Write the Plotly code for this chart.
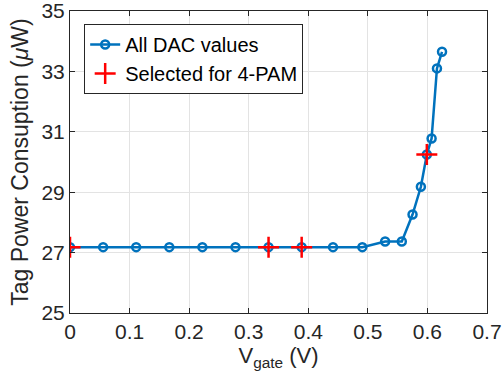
import plotly.graph_objects as go

vgate = [0, 0.0556, 0.1111, 0.1667, 0.2222, 0.2778, 0.3333, 0.3889, 0.4415, 0.4907,
         0.529, 0.557, 0.575, 0.589, 0.599, 0.607, 0.616, 0.6245]
power = [27.18, 27.18, 27.18, 27.18, 27.18, 27.18, 27.18, 27.18, 27.18, 27.18,
         27.37, 27.37, 28.26, 29.18, 30.25, 30.78, 33.10, 33.65]
sel_vgate = [0, 0.3333, 0.3889, 0.599]
sel_power = [27.18, 27.18, 27.18, 30.25]

x_ticks = [0, 0.1, 0.2, 0.3, 0.4, 0.5, 0.6, 0.7]
y_ticks = [25, 27, 29, 31, 33, 35]

font = "Liberation Sans, Arial, sans-serif"
axcol = "#262626"

fig = go.Figure()
fig.add_trace(go.Scatter(
    x=vgate, y=power, mode="lines+markers", name="All DAC values",
    line=dict(color="#0072BD", width=2.5),
    marker=dict(symbol="circle-open", size=8, color="#0072BD", line=dict(width=2.5)),
))
fig.add_trace(go.Scatter(
    x=sel_vgate, y=sel_power, mode="markers", name="Selected for 4-PAM",
    marker=dict(symbol="cross-thin-open", size=15, color="#FF0000", line=dict(width=2.5, color="#FF0000")),
))

axis_common = dict(
    showline=True, linecolor=axcol, linewidth=1, mirror="ticks",
    ticks="inside", ticklen=5, tickcolor=axcol,
    showgrid=True, gridcolor="#e3e3e3", gridwidth=1,
    zeroline=False, automargin=False, ticklabeloverflow="allow",
    tickfont=dict(family=font, size=21, color=axcol),
)

fig.update_layout(
    width=503, height=384,
    margin=dict(l=70, r=16, t=11, b=71),
    paper_bgcolor="white", plot_bgcolor="white",
    xaxis=dict(range=[0, 0.7], tickvals=x_ticks, ticktext=[("%g" % v) for v in x_ticks],
               title=dict(text="V<sub>gate</sub> (V)", font=dict(family=font, size=22, color=axcol), standoff=4),
               **axis_common),
    yaxis=dict(range=[25, 35], tickvals=y_ticks,
               title=dict(text="Tag Power Consuption (<i>μ</i>W)", font=dict(family=font, size=23, color=axcol), standoff=6),
               **axis_common),
    legend=dict(x=0.034, y=0.957, xanchor="left", yanchor="top",
                bgcolor="white", bordercolor=axcol, borderwidth=1,
                font=dict(family=font, size=20, color="black"),
                itemwidth=30, tracegroupgap=0),
    showlegend=True,
)

fig.write_html("out.html")
